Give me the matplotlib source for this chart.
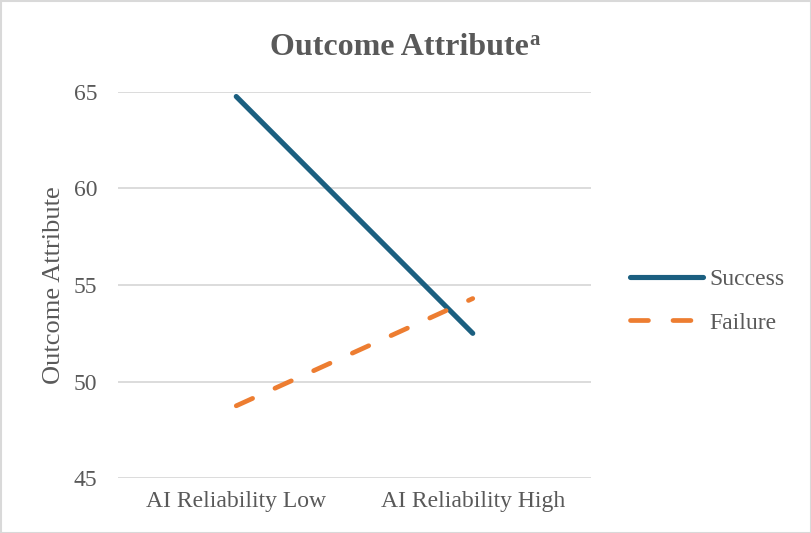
import matplotlib
matplotlib.use("Agg")
import matplotlib.pyplot as plt
from matplotlib.patches import Rectangle

# Data
categories = ["AI Reliability Low", "AI Reliability High"]
success = [64.75, 52.5]
failure = [48.75, 54.3]
yticks = [45, 50, 55, 60, 65]

TEXT = "#595959"
GRID = "#D9D9D9"
BLUE = "#1B5F80"
ORANGE = "#ED7D31"

plt.rcParams["font.family"] = ["Liberation Serif", "DejaVu Serif"]

fig = plt.figure(figsize=(8.12, 5.33), dpi=100)
ax = fig.add_axes([118 / 812, 1 - 478.3 / 533, (591 - 118) / 812, (478.3 - 91.7) / 533])

x = list(range(len(categories)))
ax.plot(x, success, color=BLUE, lw=3.7, solid_capstyle="round", label="Success", zorder=3)
ax.plot(x, failure, color=ORANGE, lw=3.4, dash_capstyle="round", dashes=(3.8, 5.2),
        label="Failure", zorder=3)

ax.set_xlim(-0.5, 1.5)
ax.set_ylim(45, 65)
ax.set_yticks(yticks)
ax.set_xticks(x)
ax.set_xticklabels(categories)
ax.grid(axis="y", color=GRID, lw=1.3)
ax.set_axisbelow(True)
for s in ax.spines.values():
    s.set_visible(False)
ax.tick_params(axis="both", length=0, labelsize=17, colors=TEXT)
ax.tick_params(axis="y", pad=15)
ax.tick_params(axis="x", pad=9)
ax.set_ylabel("Outcome Attribute", fontsize=19, color=TEXT, labelpad=6)

# Title with a small superscript note marker
title = fig.text(399 / 812, 1 - 55 / 533, "Outcome Attribute", ha="center", va="baseline",
                 fontsize=23, fontweight="bold", color=TEXT)
ax.annotate("a", xy=(1, 0), xycoords=title, xytext=(1, 12.5), textcoords="offset points",
            ha="left", va="baseline", fontsize=15, fontweight="bold", color=TEXT,
            annotation_clip=False)

leg = fig.legend(loc="center left", bbox_to_anchor=(618 / 812, 1 - 301 / 533), frameon=False,
                 fontsize=17, handlelength=3.1, handletextpad=0.25, labelspacing=0.95,
                 borderpad=0)
for t in leg.get_texts():
    t.set_color(TEXT)

fig.patches.append(Rectangle((0.5 / 812, 0.5 / 533), 1 - 1.5 / 812, 1 - 1.5 / 533,
                             transform=fig.transFigure, fill=False, edgecolor=GRID, lw=1.5))

fig.savefig("out.png", dpi=100)
